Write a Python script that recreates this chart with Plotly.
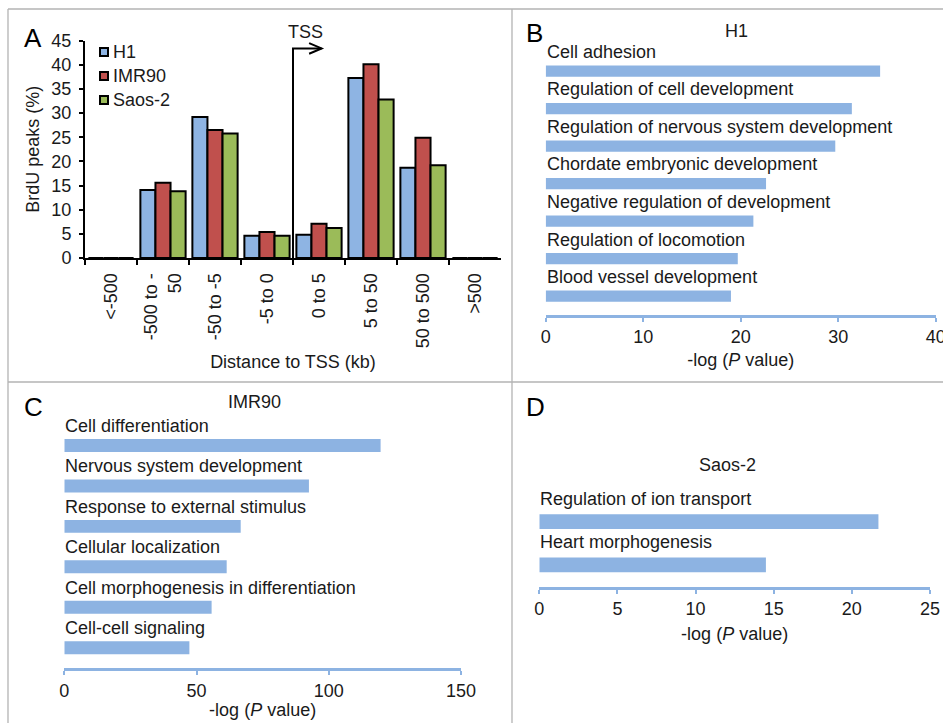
import plotly.graph_objects as go

# ---- Panel A: distribution of BrdU peaks relative to TSS ----
categories = ["<-500", "-500 to -<br>50", "-50 to -5", "-5 to 0",
              "0 to 5", "5 to 50", "50 to 500", ">500"]
series_names = ["H1", "IMR90", "Saos-2"]
h1_peaks = [0, 14.1, 29.2, 4.6, 4.8, 37.3, 18.7, 0]
imr90_peaks = [0, 15.6, 26.5, 5.4, 7.1, 40.1, 24.9, 0]
saos2_peaks = [0, 13.8, 25.8, 4.6, 6.2, 32.8, 19.2, 0]
y_ticks_a = [0, 5, 10, 15, 20, 25, 30, 35, 40, 45]

# ---- Panels B-D: GO term enrichment ----
h1_terms = ["Cell adhesion", "Regulation of cell development",
            "Regulation of nervous system development",
            "Chordate embryonic development",
            "Negative regulation of development",
            "Regulation of locomotion", "Blood vessel development"]
h1_logp = [34.3, 31.4, 29.7, 22.6, 21.3, 19.7, 19.0]

imr90_terms = ["Cell differentiation", "Nervous system development",
               "Response to external stimulus", "Cellular localization",
               "Cell morphogenesis in differentiation", "Cell-cell signaling"]
imr90_logp = [119.6, 92.5, 66.7, 61.4, 55.7, 47.3]

saos2_terms = ["Regulation of ion transport", "Heart morphogenesis"]
saos2_logp = [21.7, 14.5]

W, H = 943, 723
FONT = "Liberation Sans, Arial, sans-serif"
TXT = "#1a1a1a"
BLUE, RED, GREEN = "#8EB4E3", "#C0504D", "#9BBB59"
GO_BLUE = "#8DB3E2"
FRAME = "#b3b3b3"


def px(x):
    return x / W


def py(y):
    return 1 - y / H


fig = go.Figure()

# grouped bars for panel A
for name, vals, col in zip(series_names, [h1_peaks, imr90_peaks, saos2_peaks],
                           [BLUE, RED, GREEN]):
    fig.add_trace(go.Bar(x=categories, y=vals, name=name, marker_color=col,
                         marker_line_color="black", marker_line_width=2,
                         xaxis="x", yaxis="y", showlegend=False))

# horizontal enrichment bars
for terms, vals, xa, ya, w in [(h1_terms, h1_logp, "x2", "y2", 0.3),
                               (imr90_terms, imr90_logp, "x3", "y3", 0.32),
                               (saos2_terms, saos2_logp, "x4", "y4", 0.34)]:
    fig.add_trace(go.Bar(y=terms, x=vals, orientation="h", marker_color=GO_BLUE,
                         marker_line_width=0, width=w, xaxis=xa, yaxis=ya,
                         showlegend=False))

base_font = dict(family=FONT, size=18, color=TXT)

layout = dict(
    width=W, height=H, margin=dict(l=0, r=0, t=0, b=0, pad=0),
    paper_bgcolor="white", plot_bgcolor="rgba(0,0,0,0)",
    font=base_font, barmode="group", bargap=0.13, bargroupgap=0,
    showlegend=False,
)

# Panel A axes
layout["xaxis"] = dict(domain=[px(85), px(501)], anchor="y", automargin=False,
                       showline=True, linecolor="black", linewidth=2,
                       ticks="outside", tickson="boundaries", ticklen=5,
                       tickwidth=2, tickcolor="black", tickangle=-90,
                       ticklabelstandoff=6,
                       showgrid=False, tickfont=base_font,
                       title=dict(text="Distance to TSS (kb)", standoff=8,
                                  font=base_font))
layout["yaxis"] = dict(domain=[py(258), py(40.7)], anchor="x", range=[0, 45],
                       automargin=False, ticklabelstandoff=4,
                       tickvals=y_ticks_a, showline=True, linecolor="black",
                       linewidth=2, ticks="outside", ticklen=4, tickwidth=2,
                       tickcolor="black", showgrid=False, zeroline=False,
                       tickfont=base_font,
                       title=dict(text="BrdU peaks (%)", standoff=7,
                                  font=base_font))


def go_axes(xdom, ydom, xmax, dtick, n, title_gap):
    xa = dict(domain=xdom, range=[0, xmax], dtick=dtick, showline=True,
              automargin=False, ticklabeloverflow="allow",
              linecolor=GO_BLUE, linewidth=3, ticks="outside", ticklen=4,
              tickwidth=2, tickcolor=GO_BLUE, showgrid=False, zeroline=False,
              tickfont=base_font,
              title=dict(text="-log (<i>P</i> value)", font=base_font,
                         standoff=title_gap))
    ya = dict(domain=ydom, range=[n - 0.5, -0.5], showticklabels=False,
              automargin=False,
              showline=False, showgrid=False, zeroline=False, ticks="")
    return xa, ya


# Panel B
xa, ya = go_axes([px(545.7), px(935.7)], [py(314.75), py(52.25)], 40, 10, 7, 8)
xa["anchor"], ya["anchor"] = "y2", "x2"
layout["xaxis2"], layout["yaxis2"] = xa, ya
# Panel C
xa, ya = go_axes([px(64.3), px(461)], [py(667.9), py(425.3)], 150, 50, 6, 1)
xa["anchor"], ya["anchor"] = "y3", "x3"
layout["xaxis3"], layout["yaxis3"] = xa, ya
# Panel D
xa, ya = go_axes([px(539.3), px(930)], [py(586.6), py(500)], 25, 5, 2, 10)
xa["anchor"], ya["anchor"] = "y4", "x4"
layout["xaxis4"], layout["yaxis4"] = xa, ya

fig.update_layout(**layout)

ann = []
# term labels above each bar
for terms, xr, yr, shift in [(h1_terms, "x2", "y2", 19),
                             (imr90_terms, "x3", "y3", 19.5),
                             (saos2_terms, "x4", "y4", 23)]:
    for t in terms:
        ann.append(dict(x=0, y=t, xref=xr, yref=yr, text=t, showarrow=False,
                        xanchor="left", yanchor="middle", yshift=shift,
                        xshift=-1, font=base_font))

# panel letters and titles
for txt, x, y in [("A", 33, 38), ("B", 534, 33), ("C", 33, 407), ("D", 535, 407)]:
    ann.append(dict(x=px(x), y=py(y), xref="paper", yref="paper", text=txt,
                    showarrow=False, xanchor="center", yanchor="middle",
                    font=dict(family=FONT, size=26, color="black")))
for txt, x, y in [("H1", 736.7, 30.7), ("IMR90", 254.7, 401.7),
                  ("Saos-2", 727.7, 465), ("TSS", 305.7, 32)]:
    ann.append(dict(x=px(x), y=py(y), xref="paper", yref="paper", text=txt,
                    showarrow=False, xanchor="center", yanchor="middle",
                    font=base_font))

# legend for panel A
leg_shapes = []
for i, (name, col) in enumerate(zip(series_names, [BLUE, RED, GREEN])):
    cy = 52 + i * 24
    leg_shapes.append(dict(type="rect", xref="paper", yref="paper",
                           x0=px(100), x1=px(108), y0=py(cy + 4), y1=py(cy - 4),
                           fillcolor=col, line=dict(color="black", width=2)))
    ann.append(dict(x=px(111), y=py(cy), xref="paper", yref="paper", text=name,
                    showarrow=False, xanchor="left", yanchor="middle",
                    font=base_font))

fig.update_layout(annotations=ann)

# TSS marker: bent arrow at the boundary between "-5 to 0" and "0 to 5"
tss_x = categories.index("0 to 5") - 0.5
shapes = leg_shapes + [
    dict(type="path", xref="x", yref="y",
         path=f"M{tss_x},0 L{tss_x},43.4 L4.05,43.4",
         line=dict(color="black", width=2)),
    dict(type="path", xref="x", yref="y",
         path="M3.81,44.5 L4.05,43.4 L3.81,42.3",
         line=dict(color="black", width=2)),
]

# panel frame lines
for x0, y0, x1, y1 in [(8, 9, W, 9), (8, 9, 8, H), (512, 9, 512, H),
                       (8, 382, W, 382)]:
    shapes.append(dict(type="line", xref="paper", yref="paper",
                       x0=px(x0), y0=py(y0), x1=px(x1), y1=py(y1),
                       line=dict(color=FRAME, width=1.3)))
fig.update_layout(shapes=shapes)

fig.write_html("out.html")
